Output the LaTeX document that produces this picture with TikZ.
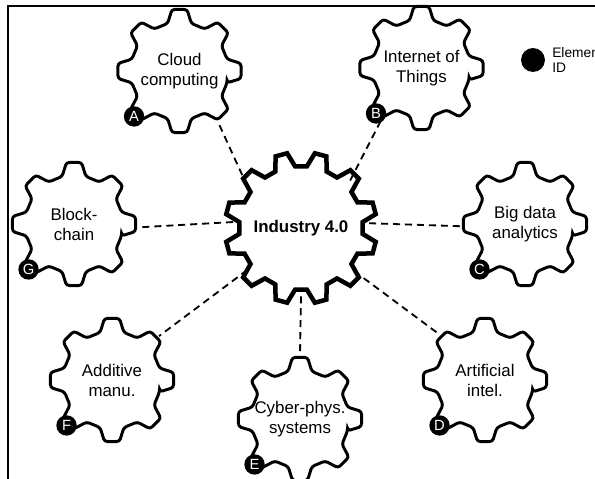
\documentclass[tikz,border=0pt]{standalone}
\usepackage{fontspec}
\setmainfont{Liberation Sans}

% closed toothed outline around a centre: [style]{centre}{tip r}{root r}{teeth}{first tooth angle}{tip half-angle}{root half-angle}
\newcommand{\gearoutline}[8][]{%
  \begin{scope}[shift={#2}]
    \draw[#1] ({#6-#8}:#4)
      \foreach \k in {1,...,#5}{
        -- ({#6+(\k-1)*360/#5-#8}:#4) -- ({#6+(\k-1)*360/#5-#7}:#3)
        -- ({#6+(\k-1)*360/#5+#7}:#3) -- ({#6+(\k-1)*360/#5+#8}:#4)
      } -- cycle;
  \end{scope}}

\begin{document}
\begin{tikzpicture}[x=0.025cm,y=0.025cm,
  every node/.style={font=\fontsize{12}{14.2}\selectfont},
  gearnode/.style={circle,minimum size=3.2cm,inner sep=0pt,align=center},
  hubnode/.style={circle,minimum size=3.4cm,inner sep=0pt,font=\fontsize{12}{14.2}\selectfont\bfseries},
  gearline/.style={line width=2.1pt,rounded corners=2pt},
  hubline/.style={line width=3.2pt,line join=miter},
  link/.style={line width=1.3pt,dash pattern=on 5pt off 3.5pt},
  badge/.style={circle,fill=black,inner sep=0pt,minimum size=14.5pt,text=white,font=\fontsize{10.5}{12}\selectfont},
  legend/.style={align=left,inner sep=0pt,font=\fontsize{9.8}{11}\selectfont}]
\useasboundingbox (0,0) rectangle (595,479);
\clip (0,0) rectangle (595,479);
% frame
\draw[line width=1.4pt] (8,-20) -- (8,473) -- (620,473);
% centre gear
\node[hubnode] (hub) at (301,251) {Industry 4.0};
\gearoutline[hubline]{(hub)}{76}{62}{12}{15}{4.5}{9.5}
% outer gears, their links to the centre and their IDs
\foreach \nm/\x/\y/\id/\txt/\ha/\ga in {
  cloud/179.5/408/A/{Cloud\\computing}/142/307,
  iot/421.5/411/B/{Internet of\\Things}/44/232,
  bigdata/525/255/C/{Big data\\analytics}/4/182,
  ai/485/99/D/{Artificial\\intel.}/321/135,
  cps/300/60/E/{Cyber-phys.\\systems}/270/90,
  additive/112/99/F/{Additive\\manu.}/218/43,
  chain/74/255/G/{Block-\\chain}/175/357} {
  \node[gearnode] (\nm) at (\x,\y) {\txt};
  \gearoutline[gearline]{(\nm)}{62}{49}{8}{0}{7}{14}
  \draw[link] (hub.\ha) -- (\nm.\ga);
  \node[badge] (\nm-id) at (\nm.225) {\id};
}
% legend
\node[badge,minimum size=17pt] (key) at (533,419) {};
\node[legend,anchor=west] (keytext) at (552,419) {Element\\ID};
\end{tikzpicture}
\end{document}
